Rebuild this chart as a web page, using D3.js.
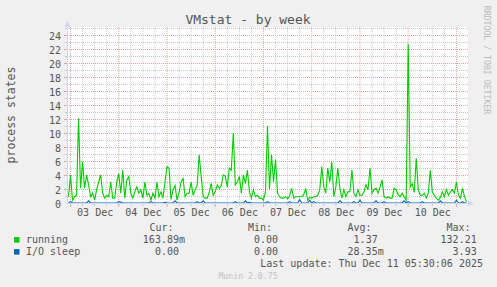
<!DOCTYPE html>
<html>
<head>
<meta charset="utf-8">
<script src="https://cdn.jsdelivr.net/npm/d3@7"></script>
<style>
  body { margin: 0; background: #f0f0f0; }
  svg { display: block; font-family: "DejaVu Sans Mono", monospace; }
</style>
</head>
<body>
<div id="chart"></div>
<script>
// hourly samples starting Dec 2 23:00
var runningValues = [
  0.9, 4.0, 0.4, 0.9, 1.1, 12.1, 2.1, 5.9, 2.1, 4.0,
  2.6, 0.9, 1.4, 0.4, 1.9, 3.0, 4.0, 1.4, 0.7, 1.1,
  0.9, 3.0, 0.7, 0.7, 3.0, 4.2, 1.4, 4.7, 0.7, 3.3,
  3.8, 1.4, 0.7, 1.6, 2.3, 1.4, 1.9, 0.7, 3.0, 1.1,
  1.4, 0.4, 1.4, 0.7, 3.0, 0.9, 1.6, 0.7, 3.0, 5.2,
  5.0, 0.5, 1.9, 2.5, 0.4, 1.5, 3.0, 3.5, 0.9, 1.4,
  1.4, 3.0, 1.1, 1.9, 2.5, 6.9, 3.8, 0.9, 0.7, 0.7,
  1.5, 2.8, 1.1, 1.6, 2.6, 2.1, 2.5, 4.0, 3.8, 2.3,
  5.0, 4.7, 10.0, 2.6, 3.0, 3.8, 1.4, 4.0, 2.8, 4.7,
  1.6, 0.7, 1.9, 0.9, 1.1, 0.7, 0.7, 0.4, 1.6, 11.0,
  2.0, 6.9, 3.0, 6.2, 1.4, 0.9, 0.7, 0.7, 0.9, 0.6,
  1.0, 2.1, 0.7, 0.9, 0.9, 0.9, 0.9, 1.2, 2.1, 0.4,
  0.8, 0.7, 0.9, 0.9, 1.1, 1.9, 5.2, 2.3, 1.4, 5.0,
  3.0, 5.9, 0.9, 2.3, 5.0, 2.1, 0.7, 1.9, 0.9, 1.6,
  1.6, 4.7, 1.4, 0.9, 1.9, 1.1, 1.1, 1.6, 2.6, 1.9,
  5.0, 1.4, 1.9, 2.1, 1.4, 2.3, 3.3, 0.9, 0.7, 0.9,
  0.7, 0.7, 2.1, 1.9, 1.2, 0.9, 1.4, 0.9, 0.4, 22.7,
  2.3, 2.8, 1.5, 6.4, 1.9, 1.1, 1.1, 1.4, 0.7, 1.4,
  4.7, 1.6, 1.1, 0.7, 0.4, 0.8, 1.6, 0.9, 1.9, 1.1,
  1.6, 1.9, 1.4, 3.0, 1.1, 0.7, 2.1, 0.9, 0.16
];
var ioSleepValues = [
  0, 0.2, 0, 0, 0, 0, 0, 0, 0, 0,
  0.3, 0, 0, 0, 0, 0, 0, 0, 0, 0,
  0, 0, 0, 0, 0, 0.2, 0.15, 0, 0, 0,
  0, 0, 0, 0, 0, 0, 0, 0, 0, 0,
  0, 0.2, 0, 0, 0, 0, 0, 0, 0.1, 0,
  0, 0, 0, 0.3, 0, 0, 0, 0, 0, 0,
  0, 0, 0, 0, 0.2, 0, 0, 0.3, 0, 0,
  0, 0, 0, 0, 0, 0, 0, 0, 0, 0,
  0, 0, 0, 0.2, 0, 0, 0, 0, 0.3, 0,
  0.1, 0, 0, 0, 0, 0, 0, 0, 0, 0.2,
  0, 0, 0, 0, 0, 0, 0, 0, 0, 0,
  0.2, 0, 0, 0, 0, 0.5, 0, 0, 0, 0,
  0.4, 0, 0.2, 0, 0, 0, 0, 0, 0, 0,
  0, 0, 0, 0, 0, 0.3, 0, 0, 0, 0,
  0, 0, 0.2, 0, 0, 0.4, 0, 0, 0, 0,
  0, 0, 0, 0.3, 0, 0, 0, 0.2, 0, 0,
  0, 0, 0, 0, 0, 0, 0, 0.3, 0, 0.2,
  0, 0, 0, 0, 0, 0, 0.2, 0, 0, 0,
  0, 0, 0, 0, 0, 0.3, 0, 0, 0, 0,
  0, 0, 0, 0.4, 0, 0, 0.2, 0, 0
];
var seriesNames = ["running", "I/O sleep"];
var curValues = ["163.89m", "0.00"];
var minValues = ["0.00", "0.00"];
var avgValues = ["1.37", "28.35m"];
var maxValues = ["132.21", "3.93"];
var yTickValues = [0, 2, 4, 6, 8, 10, 12, 14, 16, 18, 20, 22, 24];
var dayLabels = ["03 Dec", "04 Dec", "05 Dec", "06 Dec", "07 Dec", "08 Dec", "09 Dec", "10 Dec"];

var timeStart = new Date(2025, 11, 2, 22, 30);
var timeEnd = new Date(2025, 11, 11, 5, 30);
var dataStart = new Date(2025, 11, 2, 23, 0);

var W = 497, H = 287;
var fontColor = "#555";
var gridColor = "#c8c8c8";
var mgridColor = "#e4a4a4";
var axisColor = "#cfd6f8";

var svg = d3.select("#chart")
  .append("svg")
  .attr("width", W)
  .attr("height", H);

svg.append("rect").attr("width", W).attr("height", H).attr("fill", "#f0f0f0");

// scales
var x = d3.scaleTime().domain([timeStart, timeEnd]).range([67.5, 467.5]);
var y = d3.scaleLinear().domain([0, 25]).range([203.5, 28.5]);

// canvas
svg.append("rect")
  .attr("x", 67).attr("y", 27)
  .attr("width", 401).attr("height", 177)
  .attr("fill", "#fff");

// minor grid
var grid = svg.append("g");
y.ticks(25).filter(d => d > 0 && d % 2 != 0).forEach(function (v) {
  grid.append("line")
    .attr("x1", 67).attr("x2", 468)
    .attr("y1", y(v)).attr("y2", y(v))
    .attr("stroke", gridColor).attr("stroke-dasharray", "1,1");
  grid.append("line")
    .attr("x1", 65).attr("x2", 67)
    .attr("y1", y(v)).attr("y2", y(v))
    .attr("stroke", gridColor);
});
x.ticks(d3.timeHour.every(6)).filter(d => d.getHours() != 0).forEach(function (t) {
  grid.append("line")
    .attr("x1", x(t)).attr("x2", x(t))
    .attr("y1", 27).attr("y2", 203)
    .attr("stroke", gridColor).attr("stroke-dasharray", "1,1");
  grid.append("line")
    .attr("x1", x(t)).attr("x2", x(t))
    .attr("y1", 203).attr("y2", 206)
    .attr("stroke", gridColor);
});

// major grid
yTickValues.filter(d => d > 0).forEach(function (v) {
  grid.append("line")
    .attr("x1", 67).attr("x2", 468)
    .attr("y1", y(v)).attr("y2", y(v))
    .attr("stroke", mgridColor).attr("stroke-dasharray", "1,1");
  grid.append("line")
    .attr("x1", 64).attr("x2", 67)
    .attr("y1", y(v)).attr("y2", y(v))
    .attr("stroke", mgridColor);
});
x.ticks(d3.timeDay.every(1)).forEach(function (t) {
  grid.append("line")
    .attr("x1", x(t)).attr("x2", x(t))
    .attr("y1", 27).attr("y2", 203)
    .attr("stroke", mgridColor).attr("stroke-dasharray", "1,1");
  grid.append("line")
    .attr("x1", x(t)).attr("x2", x(t))
    .attr("y1", 203).attr("y2", 207)
    .attr("stroke", mgridColor);
});

// y axis labels
var yAxis = d3.axisLeft(y).tickValues(yTickValues).tickSize(0).tickPadding(6);
var gy = svg.append("g").attr("transform", "translate(67,0)").call(yAxis);
gy.select(".domain").remove();
gy.selectAll("text")
  .attr("font-family", "DejaVu Sans Mono, monospace")
  .attr("font-size", 10)
  .attr("fill", fontColor)
  .attr("dy", "0.36em");

// x axis labels at noon of each day
var noons = dayLabels.map((d, i) => d3.timeHour.offset(d3.timeDay.offset(new Date(2025, 11, 3), i), 12));
var xAxis = d3.axisBottom(x).tickValues(noons).tickFormat((d, i) => dayLabels[i]).tickSize(0).tickPadding(6);
var gx = svg.append("g").attr("transform", "translate(0,203)").call(xAxis);
gx.select(".domain").remove();
gx.selectAll("text")
  .attr("font-family", "DejaVu Sans Mono, monospace")
  .attr("font-size", 10)
  .attr("fill", fontColor)
  .attr("dy", "0.71em");

// data lines
svg.append("clipPath").attr("id", "clip")
  .append("rect").attr("x", 67).attr("y", 27).attr("width", 401).attr("height", 177);

var line = d3.line()
  .x((d, i) => x(d3.timeHour.offset(dataStart, i)))
  .y(d => y(d) - 0.5);

svg.append("path")
  .datum(runningValues)
  .attr("clip-path", "url(#clip)")
  .attr("fill", "none")
  .attr("stroke", "#00cc00")
  .attr("stroke-width", 1.1)
  .attr("d", line);

svg.append("path")
  .datum(ioSleepValues)
  .attr("clip-path", "url(#clip)")
  .attr("fill", "none")
  .attr("stroke", "#0066b3")
  .attr("stroke-width", 1.1)
  .attr("d", line);

// axes with arrows
svg.append("line")
  .attr("x1", 67.5).attr("x2", 67.5).attr("y1", 204).attr("y2", 25)
  .attr("stroke", axisColor);
svg.append("path")
  .attr("d", "M64.5,27 L67.5,21 L70.5,27 Z")
  .attr("fill", axisColor);
svg.append("line")
  .attr("x1", 66).attr("x2", 470).attr("y1", 203.5).attr("y2", 203.5)
  .attr("stroke", axisColor);
svg.append("path")
  .attr("d", "M468,200.5 L474,203.5 L468,206.5 Z")
  .attr("fill", axisColor);

// title
svg.append("text")
  .attr("x", 248).attr("y", 23.5)
  .attr("text-anchor", "middle")
  .attr("font-size", 13)
  .attr("fill", fontColor)
  .text("VMstat - by week");

// vertical label
svg.append("text")
  .attr("transform", "translate(15,115) rotate(-90)")
  .attr("text-anchor", "middle")
  .attr("font-size", 11.5)
  .attr("fill", fontColor)
  .text("process states");

// watermark
svg.append("text")
  .attr("transform", "translate(487,60) rotate(90)")
  .attr("text-anchor", "middle")
  .attr("dominant-baseline", "central")
  .attr("font-size", 8.2)
  .attr("fill", "#bbb")
  .text("RRDTOOL / TOBI OETIKER");

// legend
var legend = svg.append("g")
  .attr("font-size", 10)
  .attr("fill", fontColor);

var headers = [["Cur:", 149.5], ["Min:", 248], ["Avg:", 347.5], ["Max:", 446.5]];
headers.forEach(function (h) {
  legend.append("text").attr("x", h[1]).attr("y", 230.6).text(h[0]);
});

var colEnds = [185, 284, 383.7, 482.7];
var colors = ["#00cc00", "#0066b3"];
seriesNames.forEach(function (name, i) {
  var by = 242.6 + i * 12;
  legend.append("rect")
    .attr("x", 14).attr("y", by - 5.5)
    .attr("width", 5.5).attr("height", 5.5)
    .attr("fill", colors[i]);
  legend.append("text").attr("x", 26).attr("y", by).text(name);
  [curValues[i], minValues[i], avgValues[i], maxValues[i]].forEach(function (v, j) {
    var suffix = /[a-zA-Z]$/.test(v);
    legend.append("text")
      .attr("x", colEnds[j] - (suffix ? 0 : 6))
      .attr("y", by)
      .attr("text-anchor", "end")
      .text(v);
  });
});

legend.append("text")
  .attr("x", 483).attr("y", 266.9)
  .attr("text-anchor", "end")
  .text("Last update: Thu Dec 11 05:30:06 2025");

svg.append("text")
  .attr("x", 248).attr("y", 279)
  .attr("text-anchor", "middle")
  .attr("font-size", 8.2)
  .attr("fill", "#c4c4c4")
  .text("Munin 2.0.75");
</script>
</body>
</html>
